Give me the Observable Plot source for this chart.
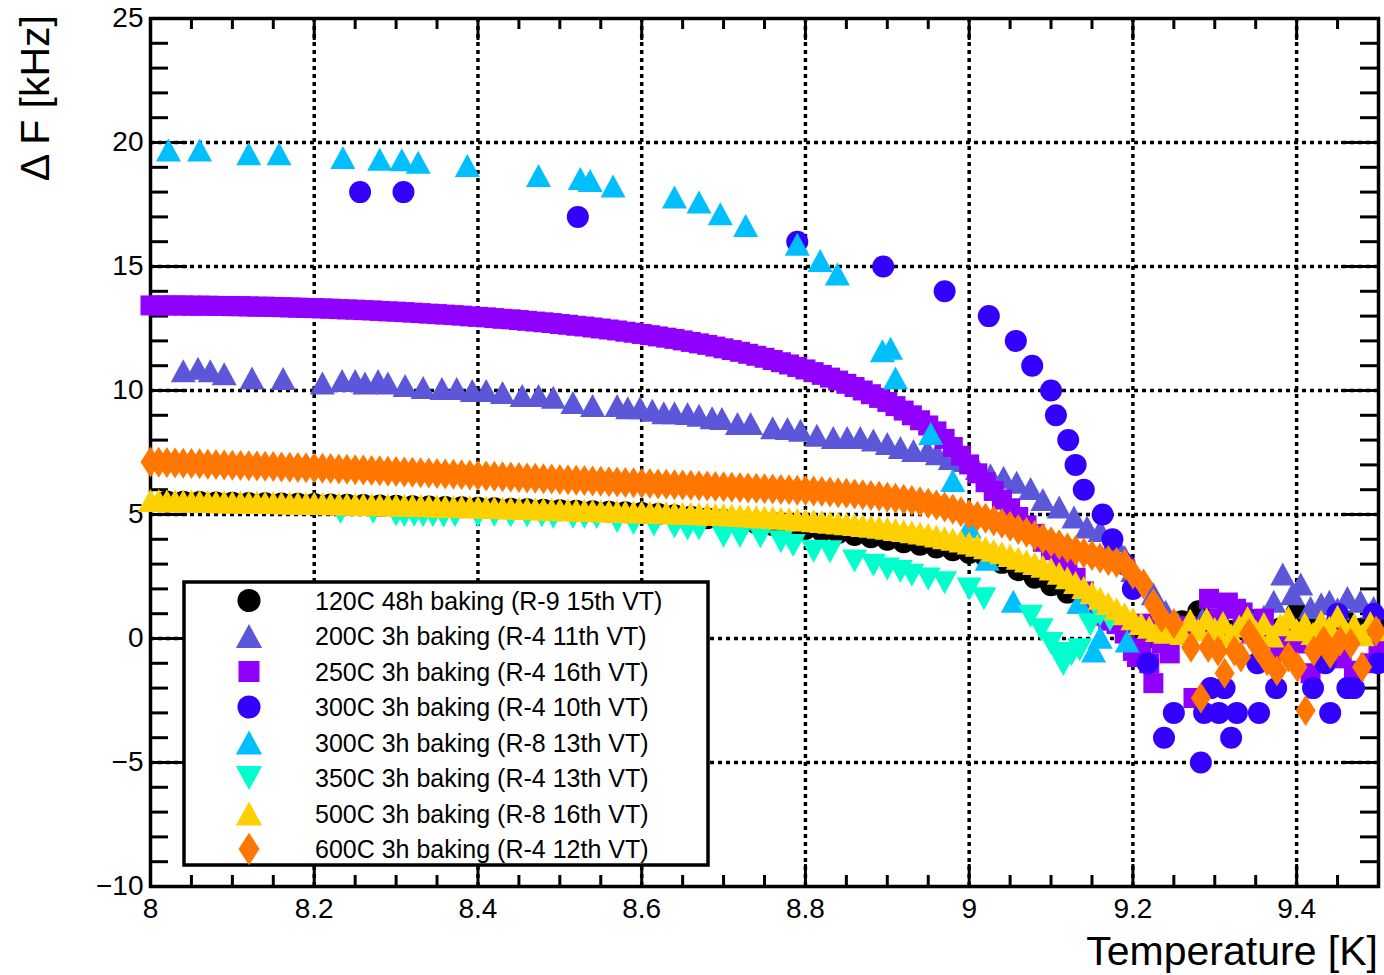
<!DOCTYPE html>
<html>
<head>
<meta charset="utf-8">
<script src="https://cdn.jsdelivr.net/npm/d3@7"></script>
<script src="https://cdn.jsdelivr.net/npm/@observablehq/plot@0.6"></script>
<style>
  html, body { margin: 0; padding: 0; background: #fff; }
  #chart { width: 1384px; height: 975px; }
</style>
</head>
<body>
<div id="chart"></div>
<script>
// ---------------- DATA ----------------
const seriesNames = [
  "120C 48h baking (R-9 15th VT)",
  "200C 3h baking (R-4 11th VT)",
  "250C 3h baking (R-4 16th VT)",
  "300C 3h baking (R-4 10th VT)",
  "300C 3h baking (R-8 13th VT)",
  "350C 3h baking (R-4 13th VT)",
  "500C 3h baking (R-8 16th VT)",
  "600C 3h baking (R-4 12th VT)"
];

const xMajor = [8.0, 8.2, 8.4, 8.6, 8.8, 9.0, 9.2, 9.4];
const xTickLabels = ["8", "8.2", "8.4", "8.6", "8.8", "9", "9.2", "9.4"];
const xMinor = [8.05, 8.1, 8.15, 8.25, 8.3, 8.35, 8.45, 8.5, 8.55, 8.65, 8.7, 8.75, 8.85, 8.9, 8.95, 9.05, 9.1, 9.15, 9.25, 9.3, 9.35, 9.45];
const xGrid = [8.2, 8.4, 8.6, 8.8, 9.0, 9.2, 9.4];
const yMajor = [-10, -5, 0, 5, 10, 15, 20, 25];
const yTickLabels = ["\u221210", "\u22125", "0", "5", "10", "15", "20", "25"];
const yMinor = [-9, -8, -7, -6, -4, -3, -2, -1, 1, 2, 3, 4, 6, 7, 8, 9, 11, 12, 13, 14, 16, 17, 18, 19, 21, 22, 23, 24];
const yGrid = [-5, 0, 5, 10, 15, 20];

// common temperature grid of the dense scans [K]
const tGrid = [
  8.00,8.01,8.02,8.03,8.04,8.05,8.06,8.07,8.08,8.09,
  8.10,8.11,8.12,8.13,8.14,8.15,8.16,8.17,8.18,8.19,
  8.20,8.21,8.22,8.23,8.24,8.25,8.26,8.27,8.28,8.29,
  8.30,8.31,8.32,8.33,8.34,8.35,8.36,8.37,8.38,8.39,
  8.40,8.41,8.42,8.43,8.44,8.45,8.46,8.47,8.48,8.49,
  8.50,8.51,8.52,8.53,8.54,8.55,8.56,8.57,8.58,8.59,
  8.60,8.61,8.62,8.63,8.64,8.65,8.66,8.67,8.68,8.69,
  8.70,8.71,8.72,8.73,8.74,8.75,8.76,8.77,8.78,8.79,
  8.80,8.81,8.82,8.83,8.84,8.85,8.86,8.87,8.88,8.89,
  8.90,8.91,8.92,8.93,8.94,8.95,8.96,8.97,8.98,8.99,
  9.00,9.01,9.02,9.03,9.04,9.05,9.06,9.07,9.08,9.09,
  9.10,9.11,9.12,9.13,9.14,9.15,9.16,9.17,9.18,9.19,
  9.20,9.21,9.22,9.23,9.24,9.25,9.26,9.27,9.28,9.29,
  9.30,9.31,9.32,9.33,9.34,9.35,9.36,9.37,9.38,9.39,
  9.40,9.41,9.42,9.43,9.44,9.45,9.46,9.47,9.48,9.49,
  9.50
];

// 120C 48h (R-9 15th VT)
const t120 = [8.02,8.04,8.06,8.08,8.10,8.12,8.14,8.16,8.18,8.20,8.22,8.24,8.26,8.28,8.30,8.32,8.34,8.36,8.38,
  8.40,8.42,8.44,8.46,8.48,8.50,8.52,8.54,8.56,8.58,8.60,8.62,8.64,8.66,8.68,8.70,8.72,8.74,8.76,8.78,
  8.80,8.82,8.84,8.86,8.88,8.90,8.92,8.94,8.96,8.98,9.00,9.02,9.04,9.06,9.08,9.10,9.12,9.14,9.16,9.18,
  9.20,9.22,9.24,9.26,9.28,9.30,9.32,9.34,9.36,9.38,9.40,9.42,9.44,9.46,9.48,9.50];
const f120 = [5.52,5.51,5.50,5.48,5.47,5.46,5.45,5.44,5.43,5.42,5.40,5.39,5.38,5.36,5.35,5.33,5.32,5.30,5.29,
  5.27,5.25,5.23,5.21,5.19,5.17,5.15,5.13,5.11,5.09,5.06,5.02,4.97,4.91,4.85,4.79,4.72,4.65,4.58,4.50,
  4.42,4.34,4.26,4.17,4.08,3.98,3.88,3.78,3.67,3.56,3.45,3.30,3.05,2.75,2.45,2.15,1.85,1.50,1.10,0.70,
  0.30,0.05,0.40,0.70,1.10,0.50,0.30,0.80,0.50,0.40,1.05,0.60,0.30,0.70,0.40,0.60];

// 200C 3h (R-4 11th VT)
const t200 = [8.040,8.058,8.073,8.090,8.124,8.162,8.210,8.234,8.250,8.262,8.278,8.290,
  8.311,8.333,8.356,8.374,8.393,8.410,8.430,8.454,8.474,8.492,
  8.516,8.540,8.570,8.583,8.598,8.613,8.627,8.640,8.656,8.670,
  8.686,8.698,8.717,8.733,8.760,8.778,8.794,8.814,8.834,8.851,
  8.867,8.883,8.900,8.916,8.932,8.949,8.961,8.977,8.993,9.010,
  9.026,9.042,9.058,9.075,9.090,9.110,9.128,9.144,9.160,9.177,
  9.190,9.200,9.213,9.225,9.240,9.255,9.270,9.285,9.300,9.315,
  9.330,9.345,9.360,9.372,9.383,9.395,9.405,9.417,9.430,9.440,
  9.450,9.462,9.478,9.494];
const f200 = [10.80,10.90,10.80,10.68,10.50,10.48,10.30,10.40,10.40,10.30,10.40,10.30,
  10.20,10.12,10.08,10.08,10.00,10.00,9.92,9.80,9.80,9.73,
  9.52,9.40,9.40,9.30,9.30,9.20,9.10,9.10,9.07,9.00,
  8.90,8.87,8.67,8.67,8.50,8.47,8.40,8.20,8.10,8.10,
  8.10,8.00,7.86,7.70,7.58,7.58,7.45,7.26,7.18,6.85,
  6.60,6.50,6.30,6.05,5.60,5.30,4.90,4.50,4.35,3.95,
  3.30,2.74,2.30,1.80,1.10,0.60,0.40,0.80,0.50,0.30,
  0.60,0.70,0.90,1.50,2.60,1.80,2.20,1.25,1.40,1.50,
  1.20,1.65,1.50,1.25];

// 250C 3h (R-4 16th VT): dense scan on tGrid (8.00 .. 9.18) + tail
const f250 = [
  13.43,13.43,13.43,13.43,13.43,13.42,13.42,13.42,13.41,13.41,
  13.40,13.40,13.39,13.38,13.38,13.37,13.36,13.35,13.34,13.33,
  13.32,13.31,13.30,13.28,13.27,13.26,13.24,13.23,13.21,13.19,
  13.18,13.16,13.14,13.12,13.10,13.08,13.06,13.04,13.02,12.99,
  12.97,12.95,12.92,12.89,12.87,12.84,12.81,12.78,12.75,12.72,
  12.68,12.65,12.61,12.58,12.54,12.50,12.46,12.42,12.37,12.33,
  12.28,12.23,12.18,12.13,12.08,12.02,11.96,11.90,11.84,11.77,
  11.70,11.63,11.56,11.48,11.40,11.32,11.23,11.14,11.05,10.95,
  10.85,10.74,10.63,10.52,10.40,10.27,10.14,10.00,9.85,9.70,
  9.54,9.37,9.19,9.00,8.80,8.59,8.35,8.05,7.72,7.37,
  7.02,6.66,6.30,5.95,5.60,5.25,4.90,4.56,4.22,3.90,
  3.56,3.22,2.86,2.45,1.90,1.35,0.92,0.72,0.58];
const t250tail = [9.190,9.200,9.205,9.210,9.215,9.220,9.225,9.235,9.245,9.255,
  9.265,9.274,9.285,9.293,9.305,9.316,9.326,9.334,9.345,9.360,
  9.370,9.380,9.390,9.400,9.417,9.430,9.440,9.455,9.470,9.490,9.500];
const f250tail = [0.20,-0.50,-0.75,-0.40,0.60,-1.00,-1.80,-0.20,-0.60,0.30,
  0.50,-2.40,0.40,1.60,0.80,1.45,1.20,1.05,0.20,0.80,
  0.00,-0.50,0.30,-0.20,-1.40,-0.50,0.00,-0.80,-1.30,-1.00,-0.50];

// 300C 3h (R-4 10th VT)
const t300a = [8.256,8.309,8.522,8.790,8.895,8.970,9.024,9.057,9.077,9.100,
  9.106,9.121,9.130,9.140,9.163,9.175,9.190,9.200,9.218,9.238,
  9.250,9.283,9.287,9.295,9.305,9.312,9.320,9.327,9.352,9.354,
  9.375,9.420,9.435,9.441,9.450,9.462,9.470,9.494,9.500];
const f300a = [18,18,17,16,15,14,13,12,11,10,
  9,8,7,6,5,4,3,2,-1,-4,
  -3,-5,-3,-2,-3,-2,-4,-3,-1,-3,
  -2,-2,-1,-3,1,-2,-2,1,-1];

// 300C 3h (R-8 13th VT)
const t300b = [8.022,8.060,8.120,8.157,8.235,8.280,8.307,8.327,8.387,8.474,
  8.525,8.537,8.565,8.640,8.670,8.696,8.727,8.790,8.818,8.839,
  8.894,8.904,8.910,8.953,8.980,9.000,9.022,9.054,9.134,9.152,
  9.160,9.193];
const f300b = [19.70,19.70,19.55,19.55,19.40,19.32,19.30,19.20,19.07,18.67,
  18.55,18.47,18.25,17.80,17.60,17.13,16.65,15.90,15.24,14.70,
  11.60,11.70,10.50,8.27,6.37,4.50,3.20,1.50,1.45,-0.50,
  0.05,-0.10];

// 350C 3h (R-4 13th VT)
const t350 = [8.232,8.272,8.300,8.310,8.322,8.333,8.345,8.358,8.372,8.400,
  8.420,8.440,8.460,8.478,8.492,8.516,8.530,8.545,8.570,8.590,
  8.615,8.640,8.656,8.670,8.700,8.720,8.745,8.770,8.785,8.810,
  8.830,8.860,8.883,8.900,8.916,8.930,8.950,8.970,9.000,9.018,
  9.075,9.088,9.100,9.108,9.115,9.125,9.135,9.148,9.160,9.172];
const f350 = [5.08,5.08,4.98,4.96,4.96,4.95,4.95,4.93,4.95,4.94,
  4.96,4.94,4.94,4.94,4.88,4.88,4.88,4.88,4.72,4.64,
  4.58,4.50,4.42,4.42,4.12,4.12,4.10,3.90,3.75,3.52,
  3.50,3.12,2.95,2.80,2.70,2.55,2.40,2.25,2.00,1.60,
  0.90,0.35,-0.20,-0.60,-1.05,-0.65,-0.45,0.55,0.95,0.75];

// 500C 3h (R-8 16th VT): dense scan on full tGrid
const f500 = [
  5.56,5.56,5.55,5.55,5.54,5.53,5.53,5.52,5.51,5.51,
  5.50,5.50,5.49,5.49,5.48,5.48,5.47,5.46,5.46,5.45,
  5.45,5.44,5.43,5.43,5.42,5.41,5.41,5.40,5.39,5.39,
  5.38,5.37,5.36,5.36,5.35,5.34,5.33,5.32,5.32,5.31,
  5.30,5.29,5.28,5.27,5.26,5.25,5.24,5.23,5.22,5.21,
  5.20,5.19,5.18,5.17,5.16,5.15,5.14,5.13,5.12,5.11,
  5.10,5.09,5.08,5.07,5.06,5.05,5.04,5.03,5.02,5.01,
  5.00,4.98,4.96,4.94,4.92,4.90,4.88,4.85,4.83,4.80,
  4.78,4.75,4.72,4.69,4.66,4.63,4.60,4.56,4.53,4.49,
  4.45,4.40,4.35,4.30,4.25,4.20,4.13,4.06,4.00,3.93,
  3.85,3.76,3.66,3.56,3.46,3.35,3.24,3.13,3.02,2.91,
  2.80,2.63,2.45,2.26,2.06,1.84,1.62,1.41,1.20,1.00,
  0.80,0.60,0.45,0.32,0.25,0.55,0.20,0.75,0.35,0.80,
  0.40,0.65,0.15,0.50,0.85,0.30,0.60,0.10,0.55,0.85,
  0.35,0.60,0.20,0.70,0.45,0.90,0.30,0.55,0.15,0.65,
  0.35];

// 600C 3h (R-4 12th VT): dense scan on tGrid (8.00 .. 9.18) + tail
const f600 = [
  7.12,7.11,7.10,7.08,7.07,7.06,7.05,7.03,7.02,7.00,
  6.99,6.98,6.97,6.96,6.95,6.94,6.92,6.91,6.90,6.89,
  6.88,6.86,6.85,6.83,6.82,6.80,6.79,6.77,6.76,6.74,
  6.73,6.71,6.70,6.68,6.67,6.65,6.63,6.62,6.60,6.59,
  6.57,6.55,6.54,6.52,6.51,6.49,6.47,6.46,6.44,6.43,
  6.41,6.40,6.38,6.37,6.35,6.34,6.32,6.31,6.29,6.28,
  6.26,6.25,6.23,6.22,6.20,6.19,6.18,6.16,6.15,6.13,
  6.12,6.10,6.09,6.07,6.06,6.04,6.03,6.01,6.00,5.98,
  5.97,5.95,5.93,5.91,5.88,5.86,5.83,5.80,5.77,5.74,
  5.70,5.66,5.61,5.56,5.51,5.45,5.38,5.30,5.21,5.11,
  5.00,4.93,4.85,4.75,4.65,4.53,4.40,4.28,4.15,4.03,
  3.90,3.78,3.65,3.55,3.45,3.35,3.25,3.15,3.06];
const t600tail = [9.190,9.200,9.213,9.225,9.235,9.250,9.271,9.283,9.292,9.304,
  9.312,9.324,9.332,9.342,9.353,9.364,9.376,9.390,9.401,9.411,
  9.421,9.433,9.441,9.453,9.466,9.480,9.497];
const f600tail = [3.00,2.60,2.20,1.40,0.85,0.60,-0.35,-2.40,-0.35,-0.50,
  -1.40,-0.50,-0.75,0.20,-0.35,-0.90,-1.30,-0.75,-1.15,-2.90,
  -0.50,-0.10,-0.60,-0.10,-0.20,-1.15,0.30];

// ---------------- STYLE ----------------
const colors = ["#000000", "#5b57d8", "#9000ff", "#3300ff", "#00bfff", "#00ffcc", "#ffd000", "#ff7700"];
const FONT = "'Liberation Sans', Arial, Helvetica, sans-serif";
const W = 1384, H = 975;
const M = {left: 150, right: 6, top: 18, bottom: 89};
const plotW = W - M.left - M.right;
const plotH = H - M.top - M.bottom;

// custom ROOT-like marker shapes (r = 11 gives nominal size)
const K = s => Math.sqrt(s / Math.PI) / 11;
const symCircle = {draw(c, s) { const r = 11 * K(s); c.moveTo(r, 0); c.arc(0, 0, r, 0, 2 * Math.PI); c.closePath(); }};
const symTriUp = {draw(c, s) { const k = K(s), w = 12.5 * k, h = 11.5 * k; c.moveTo(0, -h); c.lineTo(w, h); c.lineTo(-w, h); c.closePath(); }};
const symTriDown = {draw(c, s) { const k = K(s), w = 12.5 * k, h = 11.5 * k; c.moveTo(0, h); c.lineTo(w, -h); c.lineTo(-w, -h); c.closePath(); }};
const symSquare = {draw(c, s) { const a = 10 * K(s); c.moveTo(-a, -a); c.lineTo(a, -a); c.lineTo(a, a); c.lineTo(-a, a); c.closePath(); }};
const symDiamond = {draw(c, s) { const k = K(s), w = 10 * k, h = 15.5 * k; c.moveTo(0, -h); c.lineTo(w, 0); c.lineTo(0, h); c.lineTo(-w, 0); c.closePath(); }};
const symbols = [symCircle, symTriUp, symSquare, symCircle, symTriUp, symTriDown, symTriUp, symDiamond];

// ---------------- TABLES ----------------
const rows = (ts, fs) => fs.map((f, i) => ({t: ts[i], f}));
const tables = [
  rows(t120, f120),
  rows(t200, f200),
  rows(tGrid, f250).concat(rows(t250tail, f250tail)),
  rows(t300a, f300a),
  rows(t300b, f300b),
  rows(t350, f350),
  rows(tGrid, f500),
  rows(tGrid, f600).concat(rows(t600tail, f600tail))
];

const grid = {stroke: "black", strokeWidth: 3.5, strokeDasharray: "4,4"};
const tick = {stroke: "black", strokeWidth: 3};

const plot = Plot.plot({
  width: W, height: H,
  marginLeft: M.left, marginRight: M.right, marginTop: M.top, marginBottom: M.bottom,
  style: {fontFamily: FONT, background: "white", color: "black", overflow: "visible"},
  x: {domain: [8, 9.5], label: null},
  y: {domain: [-10, 25], label: null},
  marks: [
    Plot.ruleX(xGrid, {x: d => d, ...grid}),
    Plot.ruleY(yGrid, {y: d => d, ...grid}),
    Plot.tickX(xMajor, {x: d => d, ...tick, insetTop: plotH - 22}),
    Plot.tickX(xMajor, {x: d => d, ...tick, insetBottom: plotH - 22}),
    Plot.tickX(xMinor, {x: d => d, ...tick, insetTop: plotH - 11}),
    Plot.tickX(xMinor, {x: d => d, ...tick, insetBottom: plotH - 11}),
    Plot.tickY(yMajor, {y: d => d, ...tick, insetRight: plotW - 37}),
    Plot.tickY(yMajor, {y: d => d, ...tick, insetLeft: plotW - 37}),
    Plot.tickY(yMinor, {y: d => d, ...tick, insetRight: plotW - 18}),
    Plot.tickY(yMinor, {y: d => d, ...tick, insetLeft: plotW - 18}),
    Plot.frame({stroke: "black", strokeWidth: 3.5}),
    Plot.axisX(xMajor, {tickSize: 0, tickPadding: 12, fontSize: 28, label: null,
      tickFormat: d => xTickLabels[xMajor.indexOf(d)]}),
    Plot.axisY(yMajor, {tickSize: 0, tickPadding: 7, fontSize: 28, label: null,
      tickFormat: d => yTickLabels[yMajor.indexOf(d)]}),
    ...tables.map((data, i) => Plot.dot(data, {
      x: "t", y: "f", r: 11, symbol: symbols[i], fill: colors[i], stroke: "none"
    }))
  ]
});

document.getElementById("chart").appendChild(plot);

// axis titles and legend
const svg = d3.select(plot);
svg.append("text")
  .attr("x", W - M.right).attr("y", 965)
  .attr("text-anchor", "end").attr("fill", "black")
  .style("font-family", FONT).style("font-size", "41px")
  .text("Temperature [K]");
svg.append("text")
  .attr("transform", "translate(49,15) rotate(-90)")
  .attr("text-anchor", "end").attr("fill", "black")
  .style("font-family", FONT).style("font-size", "41px")
  .text("\u0394 F [kHz]");

const lg = svg.append("g");
lg.append("rect")
  .attr("x", 184).attr("y", 582).attr("width", 524).attr("height", 283)
  .attr("fill", "white").attr("stroke", "black").attr("stroke-width", 3.5);
seriesNames.forEach((name, i) => {
  const cy = 600.5 + i * 35.5;
  lg.append("path")
    .attr("d", d3.symbol(symbols[i], Math.PI * 121)())
    .attr("transform", `translate(249,${cy}) scale(1.05)`)
    .attr("fill", colors[i]);
  lg.append("text")
    .attr("x", 315).attr("y", cy).attr("dy", "0.36em")
    .attr("text-anchor", "start")
    .attr("fill", "black")
    .style("font-family", FONT).style("font-size", "25px")
    .text(name);
});
</script>
</body>
</html>
